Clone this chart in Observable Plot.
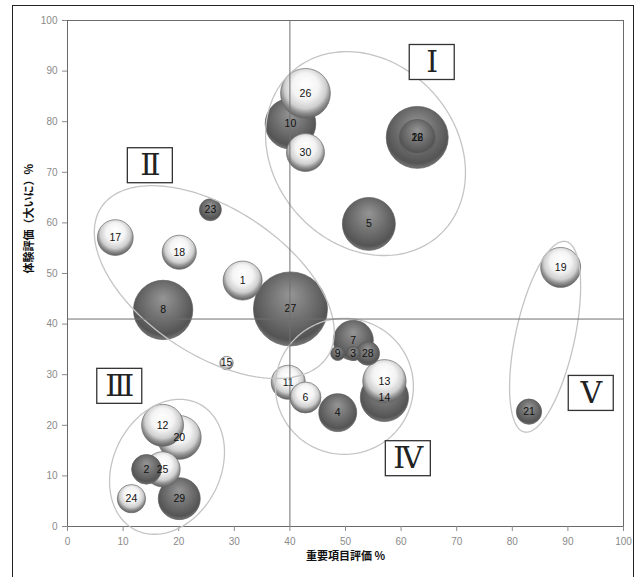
<!DOCTYPE html>
<html><head><meta charset="utf-8">
<script src="https://cdn.jsdelivr.net/npm/d3@7"></script>
<script src="https://cdn.jsdelivr.net/npm/@observablehq/plot@0.6"></script>
<style>
body{margin:0;background:#fff;}
#wrap{position:relative;width:640px;height:577px;overflow:hidden;background:#fff;}
#chart{position:absolute;left:0;top:0;}
#border{position:absolute;left:12px;top:5px;width:622px;height:620px;border:1.5px solid #222;box-sizing:border-box;pointer-events:none;}
</style></head><body>
<div id="wrap"><div id="chart"></div><div id="border"></div></div>
<script>
// Bubble data (draw order matters for overlaps)
const ids   = ["10","26","30","16","22","5","23","17","18","1","8","27","15","7","9","3","28","6","11","4","13","14","21","19","12","20","2","25","24","29"];
const xs    = [40.1,42.8,42.8,62.9,62.9,54.2,25.7,8.6,20.1,31.5,17.2,40.1,28.6,51.4,48.6,51.4,54.0,42.8,39.7,48.6,57.0,57.0,83.0,88.7,17.1,20.1,14.2,17.1,11.5,20.1];
const ys    = [79.6,85.6,73.9,76.9,76.9,59.8,62.6,57.1,54.2,48.6,42.8,43.0,32.3,36.8,34.2,34.2,34.2,25.5,28.5,22.5,28.7,25.5,22.7,51.2,20.0,17.6,11.3,11.3,5.5,5.5];
const sizes = [64,62,36,96,32,70,12,32,29,38,88,137,4.5,40,5,5,14,24,29,36,47,58,16,40,44,48,22,31,20,44];
const types = ["dark","light","light","dark","dark","dark","dark","light","light","light","dark","dark","light","dark","dark","dark","dark","light","light","dark","light","dark","dark","light","light","light","dark","light","light","dark"];

// Cross lines
const xCross = 40;
const yCross = 41;

// Group annotations (ellipses) and their numerals
const groupNames = ["Ⅰ","Ⅱ","Ⅲ","Ⅳ","Ⅴ"];
const groupCx = [53.6, 26.4, 17.9, 49.8, 85.9];
const groupCy = [73.7, 48.3, 11.8, 27.7, 37.5];
const groupA  = [110, 135.5, 70.6, 69, 97.5];
const groupB  = [91, 73, 53.6, 68, 29.5];
const groupTilt = [48, 33.5, -63.2, 0, -77.7];
const numeralX = [65.6, 14.9, 9.4, 61.3, 94.2];
const numeralY = [91.7, 71.3, 27.7, 13.4, 26.3];

const xTicks = [0,10,20,30,40,50,60,70,80,90,100];
const yTicks = [0,10,20,30,40,50,60,70,80,90,100];

const W = 640, H = 577, ML = 67, MR = 17, MT = 20, MB = 51;
const kx = (W - ML - MR) / 100, ky = (H - MT - MB) / 100;

const bubbles = ids.map((id, i) => ({id, x: xs[i], y: ys[i], size: sizes[i], type: types[i]}));

const ellipsePts = [];
groupNames.forEach((g, gi) => {
  const th = groupTilt[gi] * Math.PI / 180, a = groupA[gi], b = groupB[gi];
  for (let k = 0; k <= 180; k++) {
    const t = 2 * Math.PI * k / 180;
    const dx = a * Math.cos(t) * Math.cos(th) - b * Math.sin(t) * Math.sin(th);
    const dy = a * Math.cos(t) * Math.sin(th) + b * Math.sin(t) * Math.cos(th);
    ellipsePts.push({g, x: groupCx[gi] + dx / kx, y: groupCy[gi] - dy / ky});
  }
});
const numerals = groupNames.map((n, i) => ({
  n, x: numeralX[i], y: numeralY[i],
  x1: numeralX[i] - 22.5 / kx, x2: numeralX[i] + 22.5 / kx,
  y1: numeralY[i] - 17.5 / ky, y2: numeralY[i] + 17.5 / ky
}));

const svg = Plot.plot({
  width: W, height: H,
  marginLeft: ML, marginRight: MR, marginTop: MT, marginBottom: MB,
  style: {fontFamily: "'Liberation Sans', Arial, sans-serif", background: "transparent"},
  x: {domain: [0, 100], label: null},
  y: {domain: [0, 100], label: null},
  r: {type: "sqrt", domain: [0, 100], range: [0, Math.sqrt(1000)]},
  color: {type: "ordinal", domain: ["dark", "light"], range: ["url(#gDark)", "url(#gLight)"]},
  marks: [
    Plot.frame({stroke: "#6a6a6a"}),
    Plot.axisX({ticks: xTicks, tickSize: 5, tickPadding: 6, fontSize: 10, color: "#8a8a8a", label: null}),
    Plot.axisY({ticks: yTicks, tickSize: 5, tickPadding: 5, fontSize: 10, color: "#8a8a8a", label: null}),
    Plot.dot(bubbles, {x: "x", y: "y", r: "size", fill: "type", stroke: d => d.type === "light" ? "#6a6a6a" : "#5a5a5a", strokeWidth: 0.7}),
    Plot.text(bubbles, {x: "x", y: "y", text: "id", fontSize: 10.5, fill: "#111"}),
    Plot.line(ellipsePts, {x: "x", y: "y", z: "g", stroke: "#c4c4c4", strokeWidth: 1.3, curve: "linear"}),
    Plot.ruleX([xCross], {stroke: "#707070", strokeWidth: 1}),
    Plot.ruleY([yCross], {stroke: "#707070", strokeWidth: 1}),
    Plot.rect(numerals, {x1: "x1", x2: "x2", y1: "y1", y2: "y2", fill: "white", stroke: "#333", strokeWidth: 1.3}),
    Plot.text(numerals, {x: "x", y: "y", text: "n", fontSize: 30, fill: "#222", fontFamily: "'DejaVu Serif', 'Liberation Serif', 'Noto Sans CJK JP', serif"}),
    Plot.text(["体験評価（大いに）%"], {frameAnchor: "left", dx: -38, rotate: -90, fontSize: 11, fontWeight: "bold", fill: "#111", fontFamily: "'Noto Sans CJK JP', sans-serif"}),
    Plot.text(["重要項目評価 %"], {frameAnchor: "bottom", dy: 33, fontSize: 11, fontWeight: "bold", fill: "#111", fontFamily: "'Noto Sans CJK JP', sans-serif"})
  ]
});

d3.select(svg).insert("defs", ":first-child").html(`
  <radialGradient id="gDark" cx="50%" cy="42%" r="58%" fx="50%" fy="30%">
    <stop offset="0%" stop-color="#959595"/>
    <stop offset="35%" stop-color="#7c7c7c"/>
    <stop offset="70%" stop-color="#626262"/>
    <stop offset="88%" stop-color="#545454"/>
    <stop offset="100%" stop-color="#767676"/>
  </radialGradient>
  <radialGradient id="gLight" cx="50%" cy="42%" r="58%" fx="50%" fy="30%">
    <stop offset="0%" stop-color="#ffffff"/>
    <stop offset="45%" stop-color="#f4f4f4"/>
    <stop offset="72%" stop-color="#cfcfcf"/>
    <stop offset="86%" stop-color="#8f8f8f"/>
    <stop offset="100%" stop-color="#5e5e5e"/>
  </radialGradient>`);

document.getElementById("chart").appendChild(svg);
</script>
</body></html>
